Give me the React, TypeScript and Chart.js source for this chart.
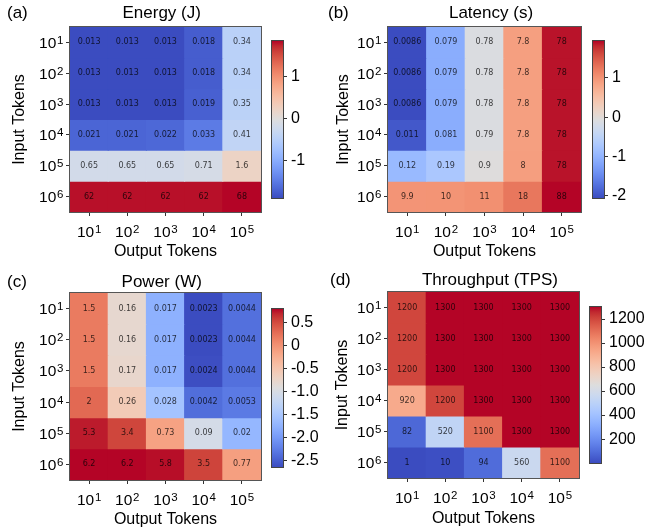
import React, { useEffect, useRef } from "react";
import { Chart, registerables } from "chart.js";

Chart.register(...registerables);

// ---------------- data ----------------
const inputTokens = ["10¹", "10²", "10³", "10⁴", "10⁵", "10⁶"];
const outputTokens = ["10¹", "10²", "10³", "10⁴", "10⁵"];

const energyJ = [
  [0.013, 0.013, 0.013, 0.018, 0.34],
  [0.013, 0.013, 0.013, 0.018, 0.34],
  [0.013, 0.013, 0.013, 0.019, 0.35],
  [0.021, 0.021, 0.022, 0.033, 0.41],
  [0.65, 0.65, 0.65, 0.71, 1.6],
  [62, 62, 62, 62, 68],
];
const latencyS = [
  [0.0086, 0.079, 0.78, 7.8, 78],
  [0.0086, 0.079, 0.78, 7.8, 78],
  [0.0086, 0.079, 0.78, 7.8, 78],
  [0.011, 0.081, 0.79, 7.8, 78],
  [0.12, 0.19, 0.9, 8, 78],
  [9.9, 10, 11, 18, 88],
];
const powerW = [
  [1.5, 0.16, 0.017, 0.0023, 0.0044],
  [1.5, 0.16, 0.017, 0.0023, 0.0044],
  [1.5, 0.17, 0.017, 0.0024, 0.0044],
  [2, 0.26, 0.028, 0.0042, 0.0053],
  [5.3, 3.4, 0.73, 0.09, 0.02],
  [6.2, 6.2, 5.8, 3.5, 0.77],
];
const throughputTPS = [
  [1200, 1300, 1300, 1300, 1300],
  [1200, 1300, 1300, 1300, 1300],
  [1200, 1300, 1300, 1300, 1300],
  [920, 1200, 1300, 1300, 1300],
  [82, 520, 1100, 1300, 1300],
  [1, 10, 94, 560, 1100],
];

const energyTicks = [-1, 0, 1];
const energyTickLabels = ["-1", "0", "1"];
const latencyTicks = [-2, -1, 0, 1];
const latencyTickLabels = ["-2", "-1", "0", "1"];
const powerTicks = [0.5, 0, -0.5, -1, -1.5, -2, -2.5];
const powerTickLabels = ["0.5", "0", "-0.5", "-1.0", "-1.5", "-2.0", "-2.5"];
const throughputTicks = [200, 400, 600, 800, 1000, 1200];
const throughputTickLabels = ["200", "400", "600", "800", "1000", "1200"];

// ---------------- colormap ----------------
const COOLWARM: number[][] = [
  [59, 76, 192], [68, 90, 204], [77, 104, 215], [87, 117, 225], [98, 130, 234],
  [108, 142, 241], [119, 154, 247], [130, 165, 251], [141, 176, 254], [152, 185, 255],
  [163, 194, 255], [174, 201, 253], [184, 208, 249], [194, 213, 244], [204, 217, 238],
  [213, 219, 230], [221, 221, 221], [229, 216, 209], [236, 211, 197], [241, 204, 185],
  [245, 196, 173], [247, 187, 160], [247, 177, 148], [247, 166, 135], [244, 154, 123],
  [241, 141, 111], [236, 127, 99], [229, 112, 88], [222, 96, 77], [213, 80, 66],
  [203, 62, 56], [192, 40, 47], [180, 4, 38],
];
function coolwarm(t: number): string {
  const tt = Math.max(0, Math.min(1, t));
  const n = COOLWARM.length - 1;
  const f = tt * n;
  const i = Math.min(Math.floor(f), n - 1);
  const u = f - i;
  const a = COOLWARM[i], b = COOLWARM[i + 1];
  const c = a.map((v, k) => Math.round(v + (b[k] - v) * u));
  return `rgb(${c[0]},${c[1]},${c[2]})`;
}

const SANS = "'Liberation Sans', Arial, Helvetica, sans-serif";

function fmt2g(v: number): string {
  return String(Number(v.toPrecision(2)));
}

const SUP: Record<string, string> = {
  "⁰": "0", "¹": "1", "²": "2", "³": "3", "⁴": "4",
  "⁵": "5", "⁶": "6", "⁷": "7", "⁸": "8", "⁹": "9",
};
function splitPow(label: string) {
  let base = "";
  let exp = "";
  for (const ch of label) {
    if (SUP[ch] !== undefined) exp += SUP[ch];
    else base += ch;
  }
  return { base, exp };
}
const BASE_SIZE = 15.5;
const EXP_SIZE = 11.5;
function drawPow(ctx: CanvasRenderingContext2D, label: string, x: number, yMid: number, align: "center" | "right") {
  const { base, exp } = splitPow(label);
  ctx.font = `${BASE_SIZE}px ${SANS}`;
  const wb = ctx.measureText(base).width;
  ctx.font = `${EXP_SIZE}px ${SANS}`;
  const we = ctx.measureText(exp).width;
  const gap = 0.8;
  const total = wb + gap + we;
  const x0 = align === "center" ? x - total / 2 : x - total;
  const baseline = yMid + (0.716 * BASE_SIZE) / 2;
  ctx.textAlign = "left";
  ctx.textBaseline = "alphabetic";
  ctx.font = `${BASE_SIZE}px ${SANS}`;
  ctx.fillText(base, x0, baseline);
  ctx.font = `${EXP_SIZE}px ${SANS}`;
  ctx.fillText(exp, x0 + wb + gap, baseline - 4);
}

type Box = { left: number; top: number; width: number; height: number };
type Area = { l: number; t: number; r: number; b: number };

type HeatCfg = {
  values: number[][];
  log: boolean;
  box: Box;
  area: Area;
  yTitleX: number;
  xTitleY: number;
  title: string;
  titleX: number;
  titleY: number;
  panel: string;
  panelX: number;
  panelY: number;
};

type BarCfg = {
  values: number[][];
  log: boolean;
  box: Box;
  area: Area;
  ticks: number[];
  tickLabels: string[];
};

function transform(v: number, log: boolean) {
  return log ? Math.log10(v) : v;
}
function rangeOf(values: number[][], log: boolean) {
  const flat = values.flat().map((v) => transform(v, log));
  return { vmin: Math.min(...flat), vmax: Math.max(...flat) };
}

function Heatmap({ cfg }: { cfg: HeatCfg }) {
  const ref = useRef<HTMLCanvasElement>(null);
  useEffect(() => {
    const { box, area } = cfg;
    const { vmin, vmax } = rangeOf(cfg.values, cfg.log);
    const yTitlePadTop = 3;
    const padL = Math.max(0, cfg.yTitleX - box.left - yTitlePadTop - 9.6);
    const yW = area.l - box.left - padL;
    const padR = box.left + box.width - area.r;
    const padT = area.t - box.top;
    const xH = box.top + box.height - area.b;
    const xTitlePadB = Math.max(0, box.top + box.height - cfg.xTitleY - 9.6);

    const datasets = cfg.values.map((row, i) => ({
      label: inputTokens[i],
      data: row.map(() => [i - 0.5, i + 0.5]),
      backgroundColor: row.map((v) => coolwarm((transform(v, cfg.log) - vmin) / (vmax - vmin))),
      borderWidth: 0,
      grouped: false,
      barPercentage: 1,
      categoryPercentage: 1,
      inflateAmount: 0.5,
    }));

    const plugin = {
      id: "heatDecor",
      afterDatasetsDraw(chart: any) {
        const ctx = chart.ctx;
        const ca = chart.chartArea;
        ctx.save();
        // cell annotations
        ctx.font = "8px 'DejaVu Sans', sans-serif";
        ctx.textAlign = "center";
        ctx.textBaseline = "middle";
        ctx.fillStyle = "rgba(0,0,0,0.75)";
        cfg.values.forEach((row, i) => {
          const meta = chart.getDatasetMeta(i);
          row.forEach((v, j) => {
            const el = meta.data[j];
            const p = el.getCenterPoint();
            ctx.fillText(fmt2g(v), p.x, p.y);
          });
        });
        // frame
        ctx.strokeStyle = "#555";
        ctx.lineWidth = 1;
        ctx.strokeRect(ca.left - 0.5, ca.top - 0.5, ca.right - ca.left + 1, ca.bottom - ca.top + 1);
        // tick labels with superscript exponents (positions from the scales)
        ctx.fillStyle = "#000";
        const xs = chart.scales.x;
        outputTokens.forEach((lab, i) => {
          drawPow(ctx, lab, xs.getPixelForTick(i), ca.bottom + 19.5, "center");
        });
        const ys = chart.scales.y;
        inputTokens.forEach((lab, i) => {
          drawPow(ctx, lab, ca.left - 6.5, ys.getPixelForValue(i), "right");
        });
        // title + panel label
        ctx.font = `17px ${SANS}`;
        ctx.textBaseline = "middle";
        ctx.textAlign = "center";
        ctx.fillText(cfg.title, cfg.titleX - box.left, cfg.titleY - box.top);
        ctx.textAlign = "left";
        ctx.fillText(cfg.panel, cfg.panelX - box.left, cfg.panelY - box.top);
        ctx.restore();
      },
    };

    const gridOpts = {
      display: true,
      drawOnChartArea: false,
      drawTicks: true,
      offset: false,
      tickLength: 4,
      color: "#333",
    };

    const chart = new Chart(ref.current as HTMLCanvasElement, {
      type: "bar",
      data: { labels: outputTokens, datasets: datasets as any },
      options: {
        animation: false,
        responsive: false,
        maintainAspectRatio: false,
        devicePixelRatio: 1,
        layout: { padding: { left: padL, right: padR, top: padT, bottom: 0 } },
        plugins: {
          legend: { display: false },
          tooltip: { enabled: false },
          title: { display: false },
        },
        scales: {
          x: {
            type: "category",
            offset: true,
            grid: gridOpts,
            border: { display: false },
            ticks: { display: false, autoSkip: false },
            title: {
              display: true,
              text: "Output Tokens",
              color: "#000",
              font: { family: SANS, size: 16 },
              padding: { top: 0, bottom: xTitlePadB },
            },
            afterFit: (s: any) => {
              s.height = xH;
            },
          },
          y: {
            type: "linear",
            min: -0.5,
            max: 5.5,
            reverse: true,
            grid: gridOpts,
            border: { display: false },
            afterBuildTicks: (s: any) => {
              s.ticks = inputTokens.map((_, i) => ({ value: i }));
            },
            ticks: { display: false, autoSkip: false },
            title: {
              display: true,
              text: "Input Tokens",
              color: "#000",
              font: { family: SANS, size: 16 },
              padding: { top: yTitlePadTop, bottom: 0 },
            },
            afterFit: (s: any) => {
              s.width = yW;
            },
          },
        } as any,
      },
      plugins: [plugin],
    });
    return () => chart.destroy();
  }, []);
  const { box } = cfg;
  return (
    <canvas
      ref={ref}
      width={box.width}
      height={box.height}
      style={{ position: "absolute", left: box.left, top: box.top, width: box.width, height: box.height }}
    />
  );
}

function ColorBar({ cfg }: { cfg: BarCfg }) {
  const ref = useRef<HTMLCanvasElement>(null);
  useEffect(() => {
    const { box, area } = cfg;
    const { vmin, vmax } = rangeOf(cfg.values, cfg.log);
    const padL = area.l - box.left;
    const padT = area.t - box.top;
    const padB = box.top + box.height - area.b;
    const yW = box.left + box.width - area.r;

    const plugin = {
      id: "cbFrame",
      afterDatasetsDraw(chart: any) {
        const ctx = chart.ctx;
        const ca = chart.chartArea;
        ctx.save();
        ctx.strokeStyle = "#444";
        ctx.lineWidth = 1;
        ctx.strokeRect(ca.left - 0.5, ca.top - 0.5, ca.right - ca.left + 1, ca.bottom - ca.top + 1);
        ctx.restore();
      },
    };

    const chart = new Chart(ref.current as HTMLCanvasElement, {
      type: "bar",
      data: {
        labels: [""],
        datasets: [
          {
            data: [[vmin, vmax]] as any,
            backgroundColor: (c: any) => {
              const ca = c.chart.chartArea;
              if (!ca) return "rgba(0,0,0,0)";
              const g = c.chart.ctx.createLinearGradient(0, ca.bottom, 0, ca.top);
              COOLWARM.forEach((col, i) =>
                g.addColorStop(i / (COOLWARM.length - 1), `rgb(${col[0]},${col[1]},${col[2]})`)
              );
              return g;
            },
            borderWidth: 0,
            barPercentage: 1,
            categoryPercentage: 1,
            inflateAmount: 0,
          },
        ],
      },
      options: {
        animation: false,
        responsive: false,
        maintainAspectRatio: false,
        devicePixelRatio: 1,
        layout: { padding: { left: padL, right: 0, top: padT, bottom: padB } },
        plugins: {
          legend: { display: false },
          tooltip: { enabled: false },
          title: { display: false },
        },
        scales: {
          x: { display: false },
          y: {
            type: "linear",
            position: "right",
            min: vmin,
            max: vmax,
            grid: { display: true, drawOnChartArea: false, drawTicks: true, tickLength: 4, color: "#333" },
            border: { display: false },
            afterBuildTicks: (s: any) => {
              s.ticks = cfg.ticks.map((v) => ({ value: v }));
            },
            ticks: {
              callback: (v: any, i: number) => cfg.tickLabels[i],
              font: { family: SANS, size: 16 },
              color: "#000",
              padding: 4,
              autoSkip: false,
            },
            afterFit: (s: any) => {
              s.width = yW;
            },
          },
        } as any,
      },
      plugins: [plugin],
    });
    return () => chart.destroy();
  }, []);
  const { box } = cfg;
  return (
    <canvas
      ref={ref}
      width={box.width}
      height={box.height}
      style={{ position: "absolute", left: box.left, top: box.top, width: box.width, height: box.height }}
    />
  );
}

const heatA: HeatCfg = {
  values: energyJ, log: true,
  box: { left: 0, top: 0, width: 323, height: 262 },
  area: { l: 70, t: 27, r: 261, b: 212 },
  yTitleX: 20, xTitleY: 251.5,
  title: "Energy (J)", titleX: 161.7, titleY: 13.5,
  panel: "(a)", panelX: 7, panelY: 13,
};
const heatB: HeatCfg = {
  values: latencyS, log: true,
  box: { left: 326, top: 0, width: 321, height: 262 },
  area: { l: 388, t: 27, r: 581, b: 212 },
  yTitleX: 343.5, xTitleY: 251.5,
  title: "Latency (s)", titleX: 491, titleY: 13.5,
  panel: "(b)", panelX: 328, panelY: 13,
};
const heatC: HeatCfg = {
  values: powerW, log: true,
  box: { left: 0, top: 262, width: 323, height: 269 },
  area: { l: 70, t: 293, r: 261, b: 480 },
  yTitleX: 19.5, xTitleY: 519.5,
  title: "Power (W)", titleX: 161.7, titleY: 282,
  panel: "(c)", panelX: 7, panelY: 282.5,
};
const heatD: HeatCfg = {
  values: throughputTPS, log: false,
  box: { left: 326, top: 262, width: 321, height: 269 },
  area: { l: 388, t: 292, r: 579, b: 478 },
  yTitleX: 342.5, xTitleY: 518.5,
  title: "Throughput (TPS)", titleX: 490, titleY: 280.5,
  panel: "(d)", panelX: 330, panelY: 280,
};

const barA: BarCfg = {
  values: energyJ, log: true,
  box: { left: 262, top: 0, width: 62, height: 262 },
  area: { l: 272, t: 41, r: 283, b: 198 },
  ticks: energyTicks, tickLabels: energyTickLabels,
};
const barB: BarCfg = {
  values: latencyS, log: true,
  box: { left: 583, top: 0, width: 64, height: 262 },
  area: { l: 593, t: 41, r: 604, b: 198 },
  ticks: latencyTicks, tickLabels: latencyTickLabels,
};
const barC: BarCfg = {
  values: powerW, log: true,
  box: { left: 262, top: 262, width: 62, height: 269 },
  area: { l: 272, t: 309, r: 283, b: 467 },
  ticks: powerTicks, tickLabels: powerTickLabels,
};
const barD: BarCfg = {
  values: throughputTPS, log: false,
  box: { left: 580, top: 262, width: 67, height: 269 },
  area: { l: 590, t: 307, r: 601, b: 463 },
  ticks: throughputTicks, tickLabels: throughputTickLabels,
};

export default function App() {
  return (
    <div
      style={{
        position: "absolute",
        left: 0,
        top: 0,
        width: 647,
        height: 531,
        background: "#fff",
        overflow: "hidden",
      }}
    >
      <Heatmap cfg={heatA} />
      <Heatmap cfg={heatB} />
      <Heatmap cfg={heatC} />
      <Heatmap cfg={heatD} />
      <ColorBar cfg={barA} />
      <ColorBar cfg={barB} />
      <ColorBar cfg={barC} />
      <ColorBar cfg={barD} />
    </div>
  );
}
